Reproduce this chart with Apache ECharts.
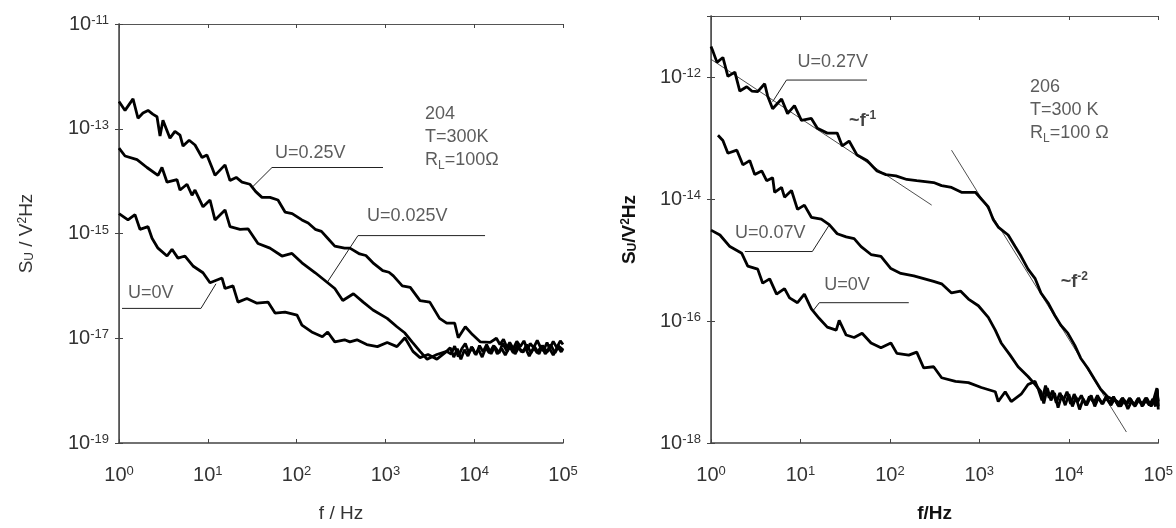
<!DOCTYPE html>
<html>
<head>
<meta charset="utf-8">
<script src="https://cdn.jsdelivr.net/npm/echarts@6/dist/echarts.min.js"></script>
<style>html,body{margin:0;padding:0;background:#fff}#c{width:1176px;height:528px}</style>
</head>
<body>
<div id="c"></div>
<script>
// ---- DATA (log10 f [Hz], log10 S_U [V^2/Hz]) ----
// tick exponents
const xTickExp = [0, 1, 2, 3, 4, 5];
const leftYTickExp = [-19, -17, -15, -13, -11];
const rightYTickExp = [-18, -16, -14, -12];

// Left panel (sample 204)
const left_U025V = [[0,-12.48],[0.068,-12.65],[0.158,-12.43],[0.214,-12.80],[0.27,-12.70],[0.327,-12.65],[0.38,-12.72],[0.428,-12.77],[0.462,-13.14],[0.495,-12.84],[0.574,-13.18],[0.63,-13.05],[0.687,-13.12],[0.721,-13.33],[0.79,-13.22],[0.856,-13.31],[0.935,-13.55],[0.99,-13.50],[1.047,-13.74],[1.081,-13.89],[1.194,-13.69],[1.25,-13.99],[1.32,-13.93],[1.385,-14.02],[1.475,-14.06],[1.54,-14.20],[1.61,-14.31],[1.70,-14.31],[1.79,-14.36],[1.87,-14.59],[1.95,-14.62],[2.06,-14.74],[2.13,-14.80],[2.21,-14.92],[2.28,-14.96],[2.35,-15.09],[2.43,-15.24],[2.54,-15.28],[2.60,-15.28],[2.71,-15.39],[2.78,-15.42],[2.86,-15.56],[2.97,-15.71],[3.04,-15.74],[3.09,-15.81],[3.19,-16.00],[3.28,-16.03],[3.39,-16.28],[3.50,-16.31],[3.61,-16.62],[3.69,-16.71],[3.78,-16.71],[3.82,-16.99],[3.90,-16.78],[3.98,-16.93],[4.07,-17.07],[4.18,-17.08],[4.25,-17.00],[4.29,-17.12],[4.33,-17.02],[4.37,-17.18],[4.40,-17.08],[4.44,-17.20],[4.48,-17.06],[4.52,-17.16],[4.56,-17.05],[4.60,-17.22],[4.63,-17.10],[4.67,-17.18],[4.71,-17.04],[4.74,-17.15],[4.78,-17.24],[4.82,-17.08],[4.85,-17.20],[4.89,-17.06],[4.93,-17.18],[4.97,-17.05],[5.0,-17.12]];
const left_U0025V = [[0,-13.37],[0.068,-13.52],[0.203,-13.59],[0.315,-13.74],[0.439,-13.89],[0.484,-13.74],[0.541,-14.02],[0.653,-13.97],[0.687,-14.17],[0.766,-14.06],[0.822,-14.27],[0.856,-14.17],[0.946,-14.49],[1.025,-14.36],[1.081,-14.74],[1.194,-14.55],[1.25,-14.87],[1.363,-14.92],[1.453,-14.91],[1.565,-15.19],[1.70,-15.28],[1.835,-15.43],[1.948,-15.38],[2.06,-15.56],[2.21,-15.75],[2.35,-15.94],[2.43,-16.05],[2.52,-16.28],[2.64,-16.15],[2.75,-16.31],[2.86,-16.46],[3.02,-16.62],[3.13,-16.78],[3.22,-16.90],[3.30,-17.07],[3.39,-17.25],[3.47,-17.40],[3.58,-17.31],[3.69,-17.25],[3.74,-17.30],[3.78,-17.15],[3.82,-17.35],[3.86,-17.20],[3.90,-17.10],[3.94,-17.28],[3.98,-17.18],[4.02,-17.32],[4.06,-17.14],[4.10,-17.26],[4.14,-17.12],[4.19,-17.30],[4.23,-17.16],[4.28,-17.28],[4.32,-17.10],[4.37,-17.25],[4.41,-17.14],[4.46,-17.30],[4.50,-17.18],[4.55,-17.27],[4.59,-17.12],[4.64,-17.28],[4.68,-17.16],[4.73,-17.30],[4.77,-17.14],[4.82,-17.26],[4.86,-17.12],[4.91,-17.28],[4.95,-17.15],[5.0,-17.22]];
const left_U0V = [[0,-14.62],[0.101,-14.74],[0.180,-14.64],[0.236,-14.92],[0.327,-14.87],[0.372,-15.09],[0.439,-15.28],[0.541,-15.43],[0.597,-15.30],[0.664,-15.47],[0.743,-15.43],[0.833,-15.62],[0.946,-15.75],[1.025,-15.94],[1.16,-15.85],[1.194,-16.05],[1.284,-16.00],[1.34,-16.31],[1.44,-16.24],[1.554,-16.33],[1.678,-16.31],[1.757,-16.52],[1.87,-16.50],[2.005,-16.56],[2.06,-16.75],[2.17,-16.88],[2.29,-16.97],[2.35,-16.88],[2.43,-17.07],[2.54,-17.03],[2.60,-17.07],[2.68,-17.03],[2.79,-17.12],[2.91,-17.16],[3.02,-17.08],[3.13,-17.16],[3.22,-16.99],[3.31,-17.25],[3.39,-17.37],[3.48,-17.31],[3.58,-17.40],[3.69,-17.25],[3.73,-17.18],[3.77,-17.36],[3.81,-17.20],[3.85,-17.40],[3.89,-17.22],[3.93,-17.34],[3.97,-17.16],[4.01,-17.30],[4.05,-17.22],[4.09,-17.36],[4.13,-17.18],[4.17,-17.28],[4.22,-17.14],[4.26,-17.30],[4.31,-17.20],[4.35,-17.32],[4.40,-17.16],[4.44,-17.28],[4.49,-17.12],[4.53,-17.26],[4.58,-17.20],[4.62,-17.34],[4.67,-17.18],[4.71,-17.28],[4.76,-17.14],[4.80,-17.30],[4.85,-17.20],[4.89,-17.32],[4.94,-17.16],[4.98,-17.26],[5.0,-17.20]];

// Right panel (sample 206)
const right_U027V = [[0,-11.50],[0.022,-11.58],[0.067,-11.76],[0.133,-11.68],[0.189,-11.99],[0.267,-11.92],[0.322,-12.23],[0.4,-12.16],[0.456,-12.23],[0.522,-12.24],[0.6,-12.11],[0.633,-12.31],[0.689,-12.52],[0.789,-12.36],[0.856,-12.60],[0.933,-12.47],[1.011,-12.71],[1.122,-12.68],[1.189,-12.84],[1.3,-12.92],[1.411,-12.92],[1.467,-13.13],[1.544,-13.05],[1.633,-13.28],[1.744,-13.37],[1.856,-13.54],[1.956,-13.60],[2.067,-13.62],[2.189,-13.68],[2.3,-13.70],[2.489,-13.73],[2.578,-13.78],[2.689,-13.81],[2.8,-13.89],[2.956,-13.89],[3.022,-14.00],[3.1,-14.13],[3.156,-14.34],[3.211,-14.46],[3.322,-14.59],[3.4,-14.78],[3.467,-14.94],[3.544,-15.15],[3.622,-15.30],[3.689,-15.54],[3.767,-15.70],[3.844,-15.91],[3.911,-16.07],[3.989,-16.20],[4.067,-16.40],[4.133,-16.61],[4.211,-16.77],[4.289,-16.96],[4.356,-17.12],[4.433,-17.24],[4.544,-17.32],[4.58,-17.40],[4.62,-17.30],[4.66,-17.44],[4.70,-17.32],[4.74,-17.38],[4.78,-17.26],[4.82,-17.40],[4.86,-17.30],[4.90,-17.38],[4.94,-17.28],[4.97,-17.40],[4.99,-17.20],[5.0,-17.32]];
const right_U007V = [[0.078,-12.955],[0.133,-13.04],[0.189,-13.25],[0.289,-13.20],[0.356,-13.44],[0.433,-13.37],[0.489,-13.60],[0.567,-13.54],[0.622,-13.70],[0.689,-13.65],[0.711,-13.89],[0.789,-13.81],[0.822,-13.97],[0.9,-13.86],[0.967,-14.17],[1.044,-14.10],[1.122,-14.30],[1.233,-14.33],[1.322,-14.42],[1.411,-14.57],[1.511,-14.62],[1.6,-14.65],[1.678,-14.78],[1.789,-14.91],[1.9,-14.94],[2.011,-15.14],[2.122,-15.22],[2.267,-15.26],[2.489,-15.35],[2.578,-15.39],[2.689,-15.54],[2.789,-15.51],[2.878,-15.64],[2.989,-15.75],[3.1,-15.94],[3.178,-16.15],[3.244,-16.36],[3.344,-16.56],[3.433,-16.75],[3.544,-16.91],[3.622,-17.04],[3.689,-17.16],[3.72,-17.35],[3.76,-17.10],[3.80,-17.30],[3.84,-17.18],[3.88,-17.42],[3.92,-17.22],[3.96,-17.38],[4.00,-17.20],[4.04,-17.40],[4.08,-17.25],[4.12,-17.45],[4.16,-17.28],[4.20,-17.38],[4.25,-17.22],[4.29,-17.40],[4.33,-17.26],[4.38,-17.36],[4.42,-17.24],[4.47,-17.38],[4.51,-17.28],[4.56,-17.40],[4.60,-17.26],[4.65,-17.36],[4.69,-17.28],[4.74,-17.40],[4.78,-17.30],[4.83,-17.38],[4.87,-17.26],[4.92,-17.40],[4.96,-17.30],[4.99,-17.12],[5.0,-17.45]];
const right_U0V = [[0,-14.51],[0.1,-14.59],[0.211,-14.78],[0.344,-14.89],[0.411,-15.10],[0.522,-15.15],[0.578,-15.38],[0.656,-15.31],[0.733,-15.56],[0.822,-15.47],[0.878,-15.62],[0.967,-15.70],[1.044,-15.56],[1.122,-15.80],[1.211,-15.96],[1.3,-16.10],[1.4,-16.15],[1.433,-15.99],[1.511,-16.23],[1.6,-16.27],[1.689,-16.20],[1.789,-16.36],[1.9,-16.44],[2.011,-16.36],[2.078,-16.53],[2.211,-16.56],[2.3,-16.51],[2.378,-16.77],[2.489,-16.75],[2.578,-16.93],[2.733,-16.99],[2.878,-17.01],[3.022,-17.09],[3.178,-17.16],[3.211,-17.32],[3.289,-17.16],[3.356,-17.32],[3.467,-17.20],[3.544,-17.04],[3.622,-16.99],[3.66,-17.12],[3.70,-17.30],[3.74,-17.06],[3.78,-17.26],[3.82,-17.14],[3.86,-17.34],[3.90,-17.18],[3.94,-17.30],[3.98,-17.16],[4.02,-17.36],[4.06,-17.20],[4.10,-17.32],[4.14,-17.22],[4.19,-17.38],[4.23,-17.24],[4.28,-17.34],[4.32,-17.22],[4.37,-17.36],[4.41,-17.26],[4.46,-17.34],[4.50,-17.24],[4.55,-17.38],[4.59,-17.28],[4.64,-17.36],[4.68,-17.26],[4.73,-17.38],[4.77,-17.28],[4.82,-17.36],[4.86,-17.26],[4.91,-17.38],[4.95,-17.28],[4.985,-17.10],[5.0,-17.40]];

// guide lines (power-law fits) on right panel
const fitF1 = [[0,-11.71],[2.467,-14.10]];
const fitF2 = [[2.689,-13.20],[4.644,-17.82]];

// ---- layout / annotations ----
const FONT = "'Liberation Sans', Arial, sans-serif";
const TXT = '#333';
const leaders = [
  {g:0, pts:[[1.498,-14.12],[1.723,-13.74],[2.973,-13.74]]},
  {g:0, pts:[[2.342,-15.94],[2.691,-15.04],[4.122,-15.04]]},
  {g:0, pts:[[1.092,-15.96],[0.923,-16.43],[0.034,-16.43]]},
  {g:1, pts:[[0.689,-12.405],[0.844,-12.05],[1.744,-12.05]]},
  {g:1, pts:[[1.322,-14.425],[1.133,-14.861],[0.378,-14.861]]},
  {g:1, pts:[[1.133,-15.847],[1.211,-15.70],[2.211,-15.70]]}
];
const notes = [
  {g:0, at:[1.757,-13.68], text:'U=0.25V', va:'bottom'},
  {g:0, at:[2.793,-14.89], text:'U=0.025V', va:'bottom'},
  {g:0, at:[0.101,-16.35], text:'U=0V', va:'bottom'},
  {g:0, at:[3.446,-12.50], text:'204\nT=300K\nR{sub|L}=100Ω', va:'top'},
  {g:1, at:[0.967,-11.937], text:'U=0.27V', va:'bottom'},
  {g:1, at:[0.267,-14.75], text:'U=0.07V', va:'bottom'},
  {g:1, at:[1.267,-15.604], text:'U=0V', va:'bottom'},
  {g:1, at:[3.567,-11.98], text:'206\nT=300 K\nR{sub|L}=100 Ω', va:'top'},
  {g:1, at:[1.544,-12.73], text:'{bb|~f}{bs|-1}', va:'middle'},
  {g:1, at:[3.911,-15.36], text:'{bb|~f}{bs|-2}', va:'middle'}
];

const grids = [
  {left:119, top:24, width:444, height:426},
  {left:711, top:16, width:450, height:433}
];
const yRange = [[-19,-11],[-18,-11]];

const axisLineStyle = {color:'#444', width:1.5};
const tickStyle = {show:true, inside:true, length:4, lineStyle:{color:'#444', width:1}};
const labRich = {
  b:{fontSize:20, fontFamily:FONT, color:TXT},
  s:{fontSize:13, fontFamily:FONT, color:TXT, verticalAlign:'top'}
};

const xAxes = [], yAxes = [];
grids.forEach((g, gi) => {
  const bold = gi === 1;
  xAxes.push({type:'value', gridIndex:gi, min:0, max:5, interval:1, position:'bottom',
    axisLine:{lineStyle:axisLineStyle}, axisTick:tickStyle, splitLine:{show:false},
    axisLabel:{margin:22, formatter:v => xTickExp.includes(v) ? '{b|10}{s|' + v + '}' : '', rich:labRich},
    name: gi === 0 ? 'f / Hz' : 'f/Hz', nameLocation:'middle', nameGap:61,
    nameTextStyle:{fontSize:19, fontFamily:FONT, color: bold ? '#111' : TXT, fontWeight: bold ? 'bold' : 'normal'}
  });
  xAxes.push({type:'value', gridIndex:gi, min:0, max:5, interval:1, position:'top',
    axisLine:{lineStyle:{color:'#555', width:1}}, axisTick:tickStyle, splitLine:{show:false}, axisLabel:{show:false}});
  const ticks = gi === 0 ? leftYTickExp : rightYTickExp;
  yAxes.push({type:'value', gridIndex:gi, min:yRange[gi][0], max:yRange[gi][1], interval:2, position:'left',
    axisLine:{lineStyle:axisLineStyle}, axisTick:tickStyle, splitLine:{show:false},
    axisLabel:{margin:10, formatter:v => ticks.includes(v) ? '{b|10}{s|' + v + '}' : '', rich:labRich},
    name: gi === 0 ? '{a|S}{u|U}{a| / V}{p|2}{a|Hz}' : '{a|S}{u|U}{a|/V}{p|2}{a|Hz}',
    nameLocation:'middle', nameRotate:90, nameGap: gi === 0 ? 83 : 72,
    nameTextStyle:{rich:{
      a:{fontSize:19, fontFamily:FONT, color: bold ? '#111' : TXT, fontWeight: bold ? 'bold':'normal'},
      u:{fontSize:12, fontFamily:FONT, color: bold ? '#111' : TXT, fontWeight: bold ? 'bold':'normal', verticalAlign:'bottom'},
      p:{fontSize:12, fontFamily:FONT, color: bold ? '#111' : TXT, fontWeight: bold ? 'bold':'normal', verticalAlign:'top'}
    }}
  });
  yAxes.push({type:'value', gridIndex:gi, min:yRange[gi][0], max:yRange[gi][1], interval:2, position:'right',
    axisLine:{lineStyle:{color:'#555', width:1}}, axisTick:tickStyle, splitLine:{show:false}, axisLabel:{show:false}});
});

function curve(data, g) {
  return {type:'line', xAxisIndex:g*2, yAxisIndex:g*2, data:data, showSymbol:false, symbol:'none',
    lineStyle:{color:'#000', width:2.8}, silent:true, animation:false, z:3};
}
function thin(data, g, w) {
  return {type:'line', xAxisIndex:g*2, yAxisIndex:g*2, data:data, showSymbol:false, symbol:'none',
    lineStyle:{color:'#222', width:w || 1}, silent:true, animation:false, z:2};
}

const series = [
  curve(left_U025V, 0), curve(left_U0025V, 0), curve(left_U0V, 0),
  curve(right_U027V, 1), curve(right_U007V, 1), curve(right_U0V, 1),
  thin(fitF1, 1, 0.8), thin(fitF2, 1, 0.8)
];
leaders.forEach(l => series.push(thin(l.pts, l.g, 1)));
notes.forEach(n => series.push({
  type:'scatter', xAxisIndex:n.g*2, yAxisIndex:n.g*2, data:[n.at], symbolSize:0, silent:true, animation:false,
  label:{show:true, position:[0,0], align:'left', verticalAlign:n.va, formatter:n.text,
    fontSize:18, fontFamily:FONT, color:TXT, lineHeight:23,
    rich:{
      sub:{fontSize:12, fontFamily:FONT, color:TXT, verticalAlign:'bottom', lineHeight:23},
      bb:{fontSize:18, fontFamily:FONT, color:'#111', fontWeight:'bold'},
      bs:{fontSize:12, fontFamily:FONT, color:'#111', fontWeight:'bold', verticalAlign:'top'}
    }}
}));

const chart = echarts.init(document.getElementById('c'), null, {renderer:'canvas'});
chart.setOption({
  animation:false,
  backgroundColor:'#fff',
  grid: grids.map(g => Object.assign({containLabel:false}, g)),
  xAxis: xAxes,
  yAxis: yAxes,
  series: series
});
</script>
</body>
</html>
